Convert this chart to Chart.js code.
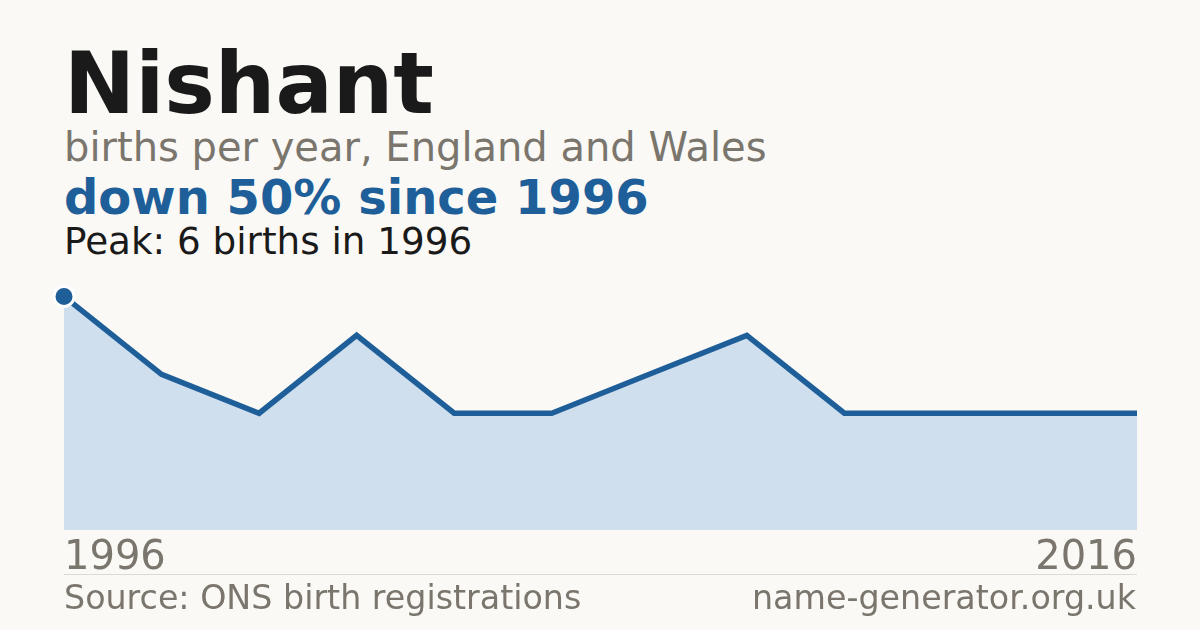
<!DOCTYPE html>
<html>
<head>
<meta charset="utf-8">
<script src="https://cdn.jsdelivr.net/npm/chart.js@4"></script>
<style>
  html, body { margin: 0; padding: 0; background: #faf9f5; }
  body { width: 1200px; height: 630px; position: relative; overflow: hidden; font-family: "DejaVu Sans", sans-serif; }
  .txt { position: absolute; left: 64px; line-height: 1; white-space: nowrap; }
  #name { top: 41px; font-size: 85px; font-weight: bold; color: #1a1a1a; }
  #sub { top: 127px; font-size: 40px; color: #7a756d; }
  #trend { top: 173px; font-size: 48px; font-weight: bold; color: #1f5f99; }
  #peak { top: 223px; font-size: 37.3px; color: #1a1a1a; }
  #rule { position: absolute; left: 64px; top: 574px; width: 1073px; height: 1px; background: #dedad3; }
  #source { top: 581px; font-size: 33.3px; color: #7a756d; }
  #site { top: 581px; left: auto; right: 64px; font-size: 33.3px; color: #7a756d; }
  #chartBox { position: absolute; left: 0; top: 264px; width: 1200px; height: 324px; }
</style>
</head>
<body>
<div class="txt" id="name">Nishant</div>
<div class="txt" id="sub">births per year, England and Wales</div>
<div class="txt" id="trend">down 50% since 1996</div>
<div class="txt" id="peak">Peak: 6 births in 1996</div>
<div id="chartBox"><canvas id="birthsChart"></canvas></div>
<div id="rule"></div>
<div class="txt" id="source">Source: ONS birth registrations</div>
<div class="txt" id="site">name-generator.org.uk</div>

<script>
// years with data (only first and last are labelled on the chart)
const years = ['1996', '', '', '', '', '', '', '', '', '', '', '2016'];
const births = [6, 4, 3, 5, 3, 3, 4, 5, 3, 3, 3, 3];
const peakIndex = 0;

const lineBlue = '#1f5f99';
const fillBlue = '#cfdfee';
const greyText = '#7a756d';

// marker only on the peak year
const pointSizes = births.map((v, i) => i === peakIndex ? 10 : 0);

const ctx = document.getElementById('birthsChart').getContext('2d');
const birthsChart = new Chart(ctx, {
  type: 'line',
  data: {
    labels: years,
    datasets: [{
      data: births,
      borderColor: lineBlue,
      borderWidth: 5.5,
      backgroundColor: fillBlue,
      fill: 'origin',
      tension: 0,
      pointRadius: pointSizes,
      pointHoverRadius: pointSizes,
      pointBackgroundColor: lineBlue,
      pointBorderColor: '#ffffff',
      pointBorderWidth: 3,
      clip: false
    }]
  },
  options: {
    responsive: true,
    maintainAspectRatio: false,
    animation: false,
    layout: { padding: { left: 64, right: 63, top: 0, bottom: 0 } },
    plugins: { legend: { display: false }, tooltip: { enabled: false } },
    scales: {
      x: {
        grid: { display: false, drawTicks: false },
        border: { display: false },
        ticks: {
          autoSkip: false,
          maxRotation: 0,
          align: 'inner',
          padding: 5,
          color: greyText,
          font: { family: 'DejaVu Sans', size: 40 }
        }
      },
      y: {
        display: false,
        min: 0,
        max: 6.5
      }
    }
  }
});
</script>
</body>
</html>
